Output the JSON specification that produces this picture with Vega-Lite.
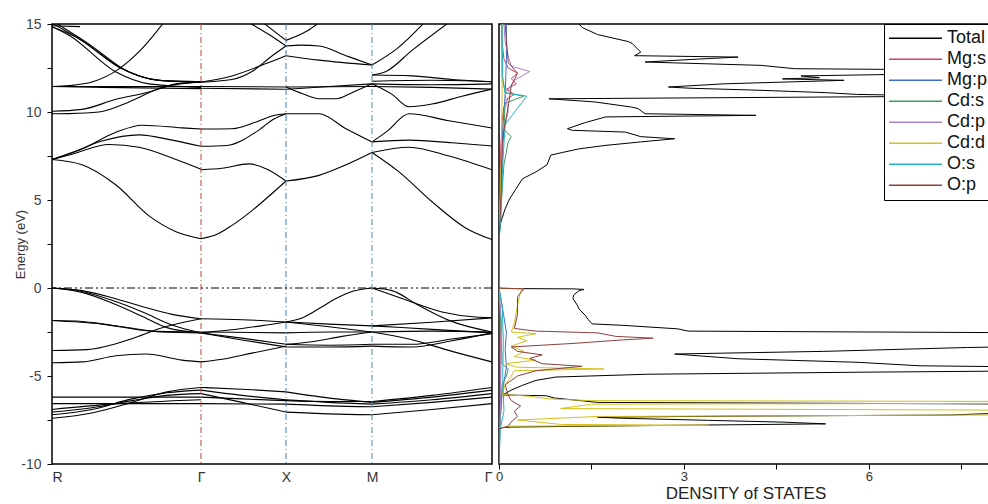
{
"$schema":"https://vega.github.io/schema/vega-lite/v6.json",
"background":"white",
"padding":{"left":14,"top":16,"right":0,"bottom":0},
"spacing":0,
"config":{"view":{"stroke":"black","strokeWidth":1.5},"font":"Liberation Sans","axis":{"labelFont":"Liberation Sans","titleFont":"Liberation Sans"},"legend":{"labelFont":"Liberation Sans"}},
"resolve":{"scale":{"x":"independent","y":"independent","color":"independent"},"legend":{"color":"independent"}},
"datasets":{
"bands":[
{"b":"r1","k":0,"e":7.3},{"b":"r1","k":30,"e":7.0},{"b":"r1","k":64,"e":5.85},{"b":"r1","k":97,"e":4.1},{"b":"r1","k":124,"e":3.2},{"b":"r1","k":149,"e":2.8},
{"b":"r2","k":0,"e":7.3},{"b":"r2","k":20,"e":7.6},{"b":"r2","k":57,"e":8.15},{"b":"r2","k":87,"e":8.0},{"b":"r2","k":124,"e":7.3},{"b":"r2","k":149,"e":6.75},
{"b":"r3","k":0,"e":7.3},{"b":"r3","k":20,"e":7.7},{"b":"r3","k":50,"e":8.35},{"b":"r3","k":87,"e":8.7},{"b":"r3","k":120,"e":8.4},{"b":"r3","k":149,"e":8.05},
{"b":"r4","k":0,"e":7.3},{"b":"r4","k":30,"e":7.9},{"b":"r4","k":64,"e":8.85},{"b":"r4","k":90,"e":9.25},{"b":"r4","k":130,"e":9.1},{"b":"r4","k":149,"e":9.03},
{"b":"r5","k":0,"e":10.04},{"b":"r5","k":30,"e":10.15},{"b":"r5","k":64,"e":10.72},{"b":"r5","k":97,"e":11.14},{"b":"r5","k":120,"e":11.52},{"b":"r5","k":149,"e":11.71},
{"b":"r6","k":0,"e":9.9},{"b":"r6","k":17,"e":9.91},{"b":"r6","k":47,"e":10.0},{"b":"r6","k":77,"e":10.57},{"b":"r6","k":107,"e":11.33},{"b":"r6","k":124,"e":11.6},{"b":"r6","k":149,"e":11.7},
{"b":"r7","k":0,"e":11.45},{"b":"r7","k":149,"e":11.45},
{"b":"r8","k":0,"e":11.45},{"b":"r8","k":50,"e":11.4},{"b":"r8","k":149,"e":11.33},
{"b":"r9","k":0,"e":11.45},{"b":"r9","k":17,"e":11.5},{"b":"r9","k":40,"e":11.7},{"b":"r9","k":67,"e":12.45},{"b":"r9","k":90,"e":13.6},{"b":"r9","k":116,"e":15.4},
{"b":"r10","k":0,"e":14.85},{"b":"r10","k":27,"e":14.17},{"b":"r10","k":67,"e":12.56},{"b":"r10","k":107,"e":11.8},{"b":"r10","k":149,"e":11.7},
{"b":"r11","k":0,"e":15.05},{"b":"r11","k":30,"e":14.05},{"b":"r11","k":70,"e":12.45},{"b":"r11","k":110,"e":11.78},{"b":"r11","k":149,"e":11.72},
{"b":"r12","k":4,"e":15.05},{"b":"r12","k":36,"e":13.9},{"b":"r12","k":76,"e":12.3},{"b":"r12","k":116,"e":11.75},{"b":"r12","k":149,"e":11.7},
{"b":"r13","k":0,"e":14.85},{"b":"r13","k":17,"e":14.36},{"b":"r13","k":64,"e":12.27},{"b":"r13","k":97,"e":11.6},{"b":"r13","k":149,"e":11.4},
{"b":"r14","k":0,"e":14.9},{"b":"r14","k":28,"e":14.85},
{"b":"r15","k":0,"e":0},{"b":"r15","k":30,"e":-0.15},{"b":"r15","k":60,"e":-0.55},{"b":"r15","k":90,"e":-1.05},{"b":"r15","k":120,"e":-1.5},{"b":"r15","k":149,"e":-1.75},
{"b":"r16","k":0,"e":0},{"b":"r16","k":30,"e":-0.2},{"b":"r16","k":60,"e":-0.7},{"b":"r16","k":90,"e":-1.35},{"b":"r16","k":120,"e":-2.1},{"b":"r16","k":149,"e":-2.55},
{"b":"r17","k":0,"e":0},{"b":"r17","k":30,"e":-0.25},{"b":"r17","k":60,"e":-0.85},{"b":"r17","k":90,"e":-1.6},{"b":"r17","k":115,"e":-2.25},{"b":"r17","k":149,"e":-2.55},
{"b":"r18","k":0,"e":-1.85},{"b":"r18","k":30,"e":-1.9},{"b":"r18","k":70,"e":-2.2},{"b":"r18","k":110,"e":-2.5},{"b":"r18","k":149,"e":-2.55},
{"b":"r19","k":0,"e":-1.85},{"b":"r19","k":50,"e":-2.05},{"b":"r19","k":100,"e":-2.45},{"b":"r19","k":149,"e":-2.5},
{"b":"r20","k":0,"e":-3.55},{"b":"r20","k":35,"e":-3.5},{"b":"r20","k":80,"e":-2.88},{"b":"r20","k":107,"e":-2.31},{"b":"r20","k":149,"e":-1.75},
{"b":"r21","k":0,"e":-4.25},{"b":"r21","k":30,"e":-4.2},{"b":"r21","k":64,"e":-3.85},{"b":"r21","k":94,"e":-3.75},{"b":"r21","k":130,"e":-4.1},{"b":"r21","k":149,"e":-4.2},
{"b":"r22","k":0,"e":-6.2},{"b":"r22","k":149,"e":-6.2},
{"b":"r23","k":0,"e":-6.57},{"b":"r23","k":149,"e":-6.57},
{"b":"r24","k":0,"e":-7.4},{"b":"r24","k":40,"e":-7.1},{"b":"r24","k":80,"e":-6.5},{"b":"r24","k":115,"e":-5.9},{"b":"r24","k":149,"e":-5.65},
{"b":"r25","k":0,"e":-7.2},{"b":"r25","k":40,"e":-6.9},{"b":"r25","k":80,"e":-6.3},{"b":"r25","k":115,"e":-5.95},{"b":"r25","k":149,"e":-5.8},
{"b":"r26","k":0,"e":-7.05},{"b":"r26","k":40,"e":-6.8},{"b":"r26","k":80,"e":-6.4},{"b":"r26","k":115,"e":-6.1},{"b":"r26","k":149,"e":-6.0},
{"b":"r27","k":0,"e":-6.9},{"b":"r27","k":60,"e":-6.6},{"b":"r27","k":149,"e":-6.35},
{"b":"g1","k":149,"e":2.8},{"b":"g1","k":165,"e":3.05},{"b":"g1","k":180,"e":3.56},{"b":"g1","k":200,"e":4.4},{"b":"g1","k":214,"e":5.07},{"b":"g1","k":234,"e":6.08},
{"b":"g2","k":149,"e":6.72},{"b":"g2","k":170,"e":6.8},{"b":"g2","k":197,"e":7.05},{"b":"g2","k":215,"e":6.75},{"b":"g2","k":234,"e":6.08},
{"b":"g3","k":149,"e":8.05},{"b":"g3","k":175,"e":8.1},{"b":"g3","k":205,"e":8.9},{"b":"g3","k":222,"e":9.6},{"b":"g3","k":234,"e":9.9},
{"b":"g4","k":149,"e":9.03},{"b":"g4","k":180,"e":9.05},{"b":"g4","k":205,"e":9.45},{"b":"g4","k":222,"e":9.8},{"b":"g4","k":234,"e":9.9},
{"b":"g5","k":149,"e":11.45},{"b":"g5","k":234,"e":11.42},
{"b":"g6","k":149,"e":11.35},{"b":"g6","k":234,"e":11.29},
{"b":"g7","k":149,"e":11.7},{"b":"g7","k":180,"e":12.05},{"b":"g7","k":214,"e":12.75},{"b":"g7","k":234,"e":13.2},
{"b":"g8","k":149,"e":11.7},{"b":"g8","k":180,"e":11.85},{"b":"g8","k":200,"e":12.3},{"b":"g8","k":218,"e":13.1},{"b":"g8","k":234,"e":13.75},
{"b":"g9","k":190,"e":15.3},{"b":"g9","k":217,"e":14.4},{"b":"g9","k":234,"e":13.75},
{"b":"g10","k":206,"e":15.3},{"b":"g10","k":234,"e":14.07},
{"b":"g11","k":149,"e":-1.75},{"b":"g11","k":190,"e":-1.8},{"b":"g11","k":234,"e":-1.93},
{"b":"g12","k":149,"e":-2.55},{"b":"g12","k":190,"e":-2.3},{"b":"g12","k":234,"e":-1.93},
{"b":"g13","k":149,"e":-2.55},{"b":"g13","k":190,"e":-2.85},{"b":"g13","k":234,"e":-3.2},
{"b":"g14","k":149,"e":-2.55},{"b":"g14","k":190,"e":-2.95},{"b":"g14","k":234,"e":-3.35},
{"b":"g15","k":149,"e":-4.2},{"b":"g15","k":170,"e":-4.05},{"b":"g15","k":200,"e":-3.7},{"b":"g15","k":234,"e":-3.3},
{"b":"g16","k":149,"e":-2.5},{"b":"g16","k":234,"e":-2.55},
{"b":"g17","k":149,"e":-5.65},{"b":"g17","k":190,"e":-5.75},{"b":"g17","k":234,"e":-5.9},
{"b":"g18","k":149,"e":-5.8},{"b":"g18","k":190,"e":-6.1},{"b":"g18","k":234,"e":-6.35},
{"b":"g19","k":149,"e":-6.0},{"b":"g19","k":190,"e":-6.5},{"b":"g19","k":234,"e":-7.05},
{"b":"g20","k":149,"e":-6.2},{"b":"g20","k":190,"e":-6.3},{"b":"g20","k":234,"e":-6.4},
{"b":"g21","k":149,"e":-6.57},{"b":"g21","k":234,"e":-6.6},
{"b":"x1","k":234,"e":6.08},{"b":"x1","k":267,"e":6.4},{"b":"x1","k":294,"e":7.0},{"b":"x1","k":320,"e":7.7},
{"b":"x2","k":234,"e":9.9},{"b":"x2","k":267,"e":9.9},{"b":"x2","k":294,"e":9.05},{"b":"x2","k":320,"e":8.3},
{"b":"x3","k":234,"e":11.42},{"b":"x3","k":250,"e":11.05},{"b":"x3","k":267,"e":10.75},{"b":"x3","k":284,"e":10.75},{"b":"x3","k":300,"e":11.1},{"b":"x3","k":320,"e":11.6},
{"b":"x4","k":234,"e":11.42},{"b":"x4","k":320,"e":11.45},
{"b":"x5","k":234,"e":11.29},{"b":"x5","k":277,"e":11.45},{"b":"x5","k":320,"e":11.6},
{"b":"x6","k":234,"e":13.2},{"b":"x6","k":267,"e":12.95},{"b":"x6","k":320,"e":12.67},
{"b":"x7","k":234,"e":13.75},{"b":"x7","k":250,"e":13.8},{"b":"x7","k":267,"e":13.75},{"b":"x7","k":294,"e":13.2},{"b":"x7","k":320,"e":12.67},
{"b":"x8","k":234,"e":14.07},{"b":"x8","k":255,"e":14.6},{"b":"x8","k":272,"e":15.3},
{"b":"x9","k":234,"e":-1.93},{"b":"x9","k":250,"e":-1.7},{"b":"x9","k":267,"e":-1.17},{"b":"x9","k":284,"e":-0.6},{"b":"x9","k":300,"e":-0.2},{"b":"x9","k":320,"e":0},
{"b":"x10","k":234,"e":-1.93},{"b":"x10","k":277,"e":-2.05},{"b":"x10","k":320,"e":-2.15},
{"b":"x11","k":234,"e":-1.93},{"b":"x11","k":277,"e":-2.2},{"b":"x11","k":320,"e":-2.5},
{"b":"x12","k":234,"e":-3.2},{"b":"x12","k":277,"e":-3.25},{"b":"x12","k":320,"e":-3.2},
{"b":"x13","k":234,"e":-3.35},{"b":"x13","k":277,"e":-3.35},{"b":"x13","k":320,"e":-3.3},
{"b":"x14","k":234,"e":-3.2},{"b":"x14","k":260,"e":-3.05},{"b":"x14","k":290,"e":-2.75},{"b":"x14","k":320,"e":-2.5},
{"b":"x15","k":234,"e":-2.55},{"b":"x15","k":277,"e":-2.5},{"b":"x15","k":320,"e":-2.5},
{"b":"x16","k":234,"e":-5.9},{"b":"x16","k":270,"e":-6.2},{"b":"x16","k":320,"e":-6.5},
{"b":"x17","k":234,"e":-6.35},{"b":"x17","k":277,"e":-6.5},{"b":"x17","k":320,"e":-6.6},
{"b":"x18","k":234,"e":-6.4},{"b":"x18","k":277,"e":-6.45},{"b":"x18","k":320,"e":-6.45},
{"b":"x19","k":234,"e":-6.6},{"b":"x19","k":277,"e":-6.7},{"b":"x19","k":320,"e":-6.75},
{"b":"x20","k":234,"e":-7.05},{"b":"x20","k":277,"e":-7.15},{"b":"x20","k":320,"e":-7.2},
{"b":"m1","k":320,"e":7.7},{"b":"m1","k":347,"e":6.6},{"b":"m1","k":380,"e":4.9},{"b":"m1","k":414,"e":3.4},{"b":"m1","k":440,"e":2.75},
{"b":"m2","k":320,"e":7.7},{"b":"m2","k":357,"e":8.0},{"b":"m2","k":397,"e":7.5},{"b":"m2","k":440,"e":6.72},
{"b":"m3","k":320,"e":8.3},{"b":"m3","k":357,"e":8.4},{"b":"m3","k":400,"e":8.25},{"b":"m3","k":440,"e":8.07},
{"b":"m4","k":320,"e":8.3},{"b":"m4","k":335,"e":8.9},{"b":"m4","k":357,"e":9.9},{"b":"m4","k":397,"e":9.5},{"b":"m4","k":440,"e":9.09},
{"b":"m5","k":320,"e":12.67},{"b":"m5","k":345,"e":13.6},{"b":"m5","k":376,"e":15.3},
{"b":"m6","k":320,"e":12.1},{"b":"m6","k":334,"e":12.3},{"b":"m6","k":360,"e":13.5},{"b":"m6","k":402,"e":15.3},
{"b":"m7","k":320,"e":12.1},{"b":"m7","k":360,"e":12.05},{"b":"m7","k":400,"e":11.85},{"b":"m7","k":440,"e":11.72},
{"b":"m8","k":320,"e":11.75},{"b":"m8","k":380,"e":11.8},{"b":"m8","k":440,"e":11.72},
{"b":"m9","k":320,"e":11.6},{"b":"m9","k":380,"e":11.55},{"b":"m9","k":440,"e":11.6},
{"b":"m10","k":320,"e":11.6},{"b":"m10","k":340,"e":11.0},{"b":"m10","k":357,"e":10.3},{"b":"m10","k":380,"e":10.45},{"b":"m10","k":410,"e":10.9},{"b":"m10","k":440,"e":11.3},
{"b":"m11","k":320,"e":11.45},{"b":"m11","k":380,"e":11.4},{"b":"m11","k":440,"e":11.3},
{"b":"m12","k":320,"e":0},{"b":"m12","k":350,"e":-0.6},{"b":"m12","k":390,"e":-1.36},{"b":"m12","k":424,"e":-1.65},{"b":"m12","k":440,"e":-1.68},
{"b":"m13","k":320,"e":0},{"b":"m13","k":340,"e":-0.15},{"b":"m13","k":367,"e":-1.0},{"b":"m13","k":397,"e":-1.84},{"b":"m13","k":440,"e":-2.5},
{"b":"m14","k":320,"e":-2.15},{"b":"m14","k":380,"e":-1.95},{"b":"m14","k":440,"e":-1.7},
{"b":"m15","k":320,"e":-2.5},{"b":"m15","k":380,"e":-2.45},{"b":"m15","k":440,"e":-2.5},
{"b":"m16","k":320,"e":-2.15},{"b":"m16","k":380,"e":-2.35},{"b":"m16","k":440,"e":-2.55},
{"b":"m17","k":320,"e":-2.5},{"b":"m17","k":357,"e":-2.9},{"b":"m17","k":400,"e":-3.6},{"b":"m17","k":440,"e":-4.2},
{"b":"m18","k":320,"e":-3.2},{"b":"m18","k":360,"e":-3.2},{"b":"m18","k":400,"e":-2.9},{"b":"m18","k":440,"e":-2.6},
{"b":"m19","k":320,"e":-3.3},{"b":"m19","k":360,"e":-3.35},{"b":"m19","k":400,"e":-3.0},{"b":"m19","k":440,"e":-2.55},
{"b":"m20","k":320,"e":-6.45},{"b":"m20","k":380,"e":-6.1},{"b":"m20","k":440,"e":-5.65},
{"b":"m21","k":320,"e":-6.5},{"b":"m21","k":380,"e":-6.2},{"b":"m21","k":440,"e":-5.8},
{"b":"m22","k":320,"e":-6.6},{"b":"m22","k":380,"e":-6.35},{"b":"m22","k":440,"e":-6.0},
{"b":"m23","k":320,"e":-6.75},{"b":"m23","k":380,"e":-6.5},{"b":"m23","k":440,"e":-6.2},
{"b":"m24","k":320,"e":-7.2},{"b":"m24","k":380,"e":-6.9},{"b":"m24","k":440,"e":-6.57}
],
"dos":[
{"s":"Total","e":-10,"d":0},{"s":"Total","e":-7.95,"d":0},{"s":"Total","e":-7.9,"d":0.2},{"s":"Total","e":-7.82,"d":2.35},{"s":"Total","e":-7.72,"d":5.3},{"s":"Total","e":-7.62,"d":4.6},{"s":"Total","e":-7.52,"d":3.4},{"s":"Total","e":-7.4,"d":2.0},{"s":"Total","e":-7.34,"d":1.6},{"s":"Total","e":-7.28,"d":3.8},{"s":"Total","e":-7.22,"d":7.3},{"s":"Total","e":-7.0,"d":9},{"s":"Total","e":-6.6,"d":9},{"s":"Total","e":-6.5,"d":1.6},{"s":"Total","e":-6.38,"d":1.27},{"s":"Total","e":-6.25,"d":0.9},{"s":"Total","e":-6.12,"d":0.76},{"s":"Total","e":-6.08,"d":0.06},{"s":"Total","e":-5.8,"d":0.2},{"s":"Total","e":-5.53,"d":0.38},{"s":"Total","e":-5.25,"d":0.6},{"s":"Total","e":-5.06,"d":0.92},{"s":"Total","e":-4.9,"d":2.4},{"s":"Total","e":-4.78,"d":6.0},{"s":"Total","e":-4.7,"d":9},{"s":"Total","e":-4.5,"d":9},{"s":"Total","e":-4.42,"d":6.83},{"s":"Total","e":-4.22,"d":5.81},{"s":"Total","e":-4.02,"d":3.88},{"s":"Total","e":-3.75,"d":2.85},{"s":"Total","e":-3.6,"d":5.27},{"s":"Total","e":-3.38,"d":7.6},{"s":"Total","e":-3.3,"d":9},{"s":"Total","e":-2.55,"d":9},{"s":"Total","e":-2.45,"d":3.07},{"s":"Total","e":-2.32,"d":2.9},{"s":"Total","e":-2.12,"d":2.0},{"s":"Total","e":-2.04,"d":1.51},{"s":"Total","e":-1.8,"d":1.45},{"s":"Total","e":-1.55,"d":1.4},{"s":"Total","e":-1.2,"d":1.3},{"s":"Total","e":-0.97,"d":1.27},{"s":"Total","e":-0.6,"d":1.2},{"s":"Total","e":-0.4,"d":1.21},{"s":"Total","e":-0.15,"d":1.3},{"s":"Total","e":-0.08,"d":1.38},{"s":"Total","e":-0.05,"d":1.2},{"s":"Total","e":-0.03,"d":0.05},{"s":"Total","e":0,"d":0},
{"s":"Total","e":2.7,"d":0},{"s":"Total","e":3.3,"d":0.01},{"s":"Total","e":3.75,"d":0.03},{"s":"Total","e":4.5,"d":0.1},{"s":"Total","e":5.05,"d":0.17},{"s":"Total","e":5.6,"d":0.27},{"s":"Total","e":6.2,"d":0.38},{"s":"Total","e":6.6,"d":0.6},{"s":"Total","e":7.0,"d":0.78},{"s":"Total","e":7.55,"d":0.84},{"s":"Total","e":7.7,"d":1.03},{"s":"Total","e":7.9,"d":1.29},{"s":"Total","e":8.1,"d":1.72},{"s":"Total","e":8.3,"d":2.3},{"s":"Total","e":8.48,"d":2.85},{"s":"Total","e":8.6,"d":2.3},{"s":"Total","e":8.86,"d":2.05},{"s":"Total","e":8.96,"d":1.19},{"s":"Total","e":9.05,"d":1.11},{"s":"Total","e":9.4,"d":1.4},{"s":"Total","e":9.72,"d":1.73},{"s":"Total","e":9.81,"d":4.17},{"s":"Total","e":9.9,"d":2.37},{"s":"Total","e":10.19,"d":2.26},{"s":"Total","e":10.28,"d":2.15},{"s":"Total","e":10.57,"d":1.56},{"s":"Total","e":10.75,"d":0.81},{"s":"Total","e":10.9,"d":7.5},{"s":"Total","e":11.0,"d":5.8},{"s":"Total","e":11.1,"d":5.3},{"s":"Total","e":11.25,"d":4.1},{"s":"Total","e":11.35,"d":3.1},{"s":"Total","e":11.42,"d":2.75},{"s":"Total","e":11.6,"d":3.65},{"s":"Total","e":11.8,"d":5.6},{"s":"Total","e":11.88,"d":4.6},{"s":"Total","e":11.95,"d":5.2},{"s":"Total","e":12.05,"d":4.9},{"s":"Total","e":12.18,"d":7.2},{"s":"Total","e":12.4,"d":7.2},{"s":"Total","e":12.46,"d":4.8},{"s":"Total","e":12.65,"d":4.25},{"s":"Total","e":12.84,"d":2.37},{"s":"Total","e":13.0,"d":3.2},{"s":"Total","e":13.12,"d":3.88},{"s":"Total","e":13.2,"d":2.2},{"s":"Total","e":13.4,"d":2.3},{"s":"Total","e":13.9,"d":2.16},{"s":"Total","e":14.0,"d":2.1},{"s":"Total","e":14.4,"d":1.6},{"s":"Total","e":14.8,"d":1.35},{"s":"Total","e":15.0,"d":1.3},
{"s":"Mg:s","e":-10,"d":0},{"s":"Mg:s","e":-8,"d":0.01},{"s":"Mg:s","e":-7,"d":0.02},{"s":"Mg:s","e":-5,"d":0.02},{"s":"Mg:s","e":-2,"d":0.02},{"s":"Mg:s","e":0,"d":0},{"s":"Mg:s","e":2.7,"d":0},{"s":"Mg:s","e":5,"d":0.01},{"s":"Mg:s","e":8,"d":0.03},{"s":"Mg:s","e":9.5,"d":0.05},{"s":"Mg:s","e":10.3,"d":0.08},{"s":"Mg:s","e":10.8,"d":0.15},{"s":"Mg:s","e":11.0,"d":0.25},{"s":"Mg:s","e":11.3,"d":0.12},{"s":"Mg:s","e":11.6,"d":0.28},{"s":"Mg:s","e":11.9,"d":0.2},{"s":"Mg:s","e":12.2,"d":0.3},{"s":"Mg:s","e":12.5,"d":0.15},{"s":"Mg:s","e":13,"d":0.08},{"s":"Mg:s","e":14,"d":0.05},{"s":"Mg:s","e":15,"d":0.05},
{"s":"Mg:p","e":-10,"d":0},{"s":"Mg:p","e":-8,"d":0.01},{"s":"Mg:p","e":-6,"d":0.05},{"s":"Mg:p","e":-4.5,"d":0.12},{"s":"Mg:p","e":-3.5,"d":0.1},{"s":"Mg:p","e":-2.5,"d":0.12},{"s":"Mg:p","e":-1,"d":0.05},{"s":"Mg:p","e":0,"d":0},{"s":"Mg:p","e":2.7,"d":0},{"s":"Mg:p","e":6,"d":0.04},{"s":"Mg:p","e":9,"d":0.06},{"s":"Mg:p","e":11,"d":0.1},{"s":"Mg:p","e":13,"d":0.12},{"s":"Mg:p","e":15,"d":0.12},
{"s":"Cd:s","e":-10,"d":0},{"s":"Cd:s","e":-7.5,"d":0.02},{"s":"Cd:s","e":-5.5,"d":0.05},{"s":"Cd:s","e":-5,"d":0.12},{"s":"Cd:s","e":-4.6,"d":0.15},{"s":"Cd:s","e":-4.3,"d":0.05},{"s":"Cd:s","e":-2,"d":0.03},{"s":"Cd:s","e":0,"d":0},{"s":"Cd:s","e":2.7,"d":0},{"s":"Cd:s","e":3.5,"d":0.02},{"s":"Cd:s","e":5,"d":0.04},{"s":"Cd:s","e":7,"d":0.08},{"s":"Cd:s","e":8.3,"d":0.15},{"s":"Cd:s","e":8.6,"d":0.2},{"s":"Cd:s","e":9,"d":0.08},{"s":"Cd:s","e":10.5,"d":0.1},{"s":"Cd:s","e":10.9,"d":0.4},{"s":"Cd:s","e":11.1,"d":0.1},{"s":"Cd:s","e":12,"d":0.05},{"s":"Cd:s","e":15,"d":0.04},
{"s":"Cd:p","e":-10,"d":0},{"s":"Cd:p","e":-7.5,"d":0.02},{"s":"Cd:p","e":-5,"d":0.03},{"s":"Cd:p","e":-2,"d":0.04},{"s":"Cd:p","e":0,"d":0},{"s":"Cd:p","e":2.7,"d":0},{"s":"Cd:p","e":6,"d":0.03},{"s":"Cd:p","e":9,"d":0.08},{"s":"Cd:p","e":10,"d":0.15},{"s":"Cd:p","e":11,"d":0.1},{"s":"Cd:p","e":11.8,"d":0.25},{"s":"Cd:p","e":12.3,"d":0.5},{"s":"Cd:p","e":12.6,"d":0.2},{"s":"Cd:p","e":13.2,"d":0.15},{"s":"Cd:p","e":14,"d":0.1},{"s":"Cd:p","e":15,"d":0.08},
{"s":"Cd:d","e":-10,"d":0},{"s":"Cd:d","e":-7.95,"d":0},{"s":"Cd:d","e":-7.85,"d":0.2},{"s":"Cd:d","e":-7.8,"d":3.4},{"s":"Cd:d","e":-7.75,"d":1.0},{"s":"Cd:d","e":-7.5,"d":0.3},{"s":"Cd:d","e":-7.3,"d":1.6},{"s":"Cd:d","e":-7.2,"d":9},{"s":"Cd:d","e":-6.95,"d":9},{"s":"Cd:d","e":-6.85,"d":1},{"s":"Cd:d","e":-6.6,"d":1.5},{"s":"Cd:d","e":-6.55,"d":9},{"s":"Cd:d","e":-6.45,"d":9},{"s":"Cd:d","e":-6.4,"d":1.5},{"s":"Cd:d","e":-6.3,"d":0.8},{"s":"Cd:d","e":-6.15,"d":0.5},{"s":"Cd:d","e":-6.05,"d":0.05},{"s":"Cd:d","e":-5.5,"d":0.1},{"s":"Cd:d","e":-5.0,"d":0.2},{"s":"Cd:d","e":-4.7,"d":0.25},{"s":"Cd:d","e":-4.6,"d":1.7},{"s":"Cd:d","e":-4.5,"d":0.3},{"s":"Cd:d","e":-4.3,"d":0.1},{"s":"Cd:d","e":-4.1,"d":0.6},{"s":"Cd:d","e":-3.9,"d":0.25},{"s":"Cd:d","e":-3.6,"d":0.4},{"s":"Cd:d","e":-3.3,"d":0.2},{"s":"Cd:d","e":-3.0,"d":0.45},{"s":"Cd:d","e":-2.8,"d":0.3},{"s":"Cd:d","e":-2.6,"d":0.6},{"s":"Cd:d","e":-2.5,"d":0.2},{"s":"Cd:d","e":-2.0,"d":0.25},{"s":"Cd:d","e":-1.0,"d":0.3},{"s":"Cd:d","e":-0.2,"d":0.35},{"s":"Cd:d","e":-0.05,"d":0.4},{"s":"Cd:d","e":0,"d":0},{"s":"Cd:d","e":2.7,"d":0},{"s":"Cd:d","e":5,"d":0.02},{"s":"Cd:d","e":8,"d":0.04},{"s":"Cd:d","e":11,"d":0.05},{"s":"Cd:d","e":15,"d":0.05},
{"s":"O:s","e":-10,"d":0},{"s":"O:s","e":-8,"d":0.02},{"s":"O:s","e":-7,"d":0.08},{"s":"O:s","e":-5,"d":0.06},{"s":"O:s","e":-3,"d":0.07},{"s":"O:s","e":-1,"d":0.05},{"s":"O:s","e":0,"d":0},{"s":"O:s","e":2.7,"d":0},{"s":"O:s","e":4,"d":0.03},{"s":"O:s","e":7,"d":0.06},{"s":"O:s","e":9.3,"d":0.1},{"s":"O:s","e":10.9,"d":0.45},{"s":"O:s","e":11.1,"d":0.1},{"s":"O:s","e":12,"d":0.06},{"s":"O:s","e":15,"d":0.05},
{"s":"O:p","e":-10,"d":0},{"s":"O:p","e":-8,"d":0},{"s":"O:p","e":-7.85,"d":0.15},{"s":"O:p","e":-7.6,"d":0.2},{"s":"O:p","e":-7.3,"d":0.3},{"s":"O:p","e":-7.0,"d":0.25},{"s":"O:p","e":-6.7,"d":0.35},{"s":"O:p","e":-6.4,"d":0.2},{"s":"O:p","e":-6.1,"d":0.15},{"s":"O:p","e":-5.5,"d":0.1},{"s":"O:p","e":-5.0,"d":0.3},{"s":"O:p","e":-4.7,"d":0.6},{"s":"O:p","e":-4.45,"d":1.35},{"s":"O:p","e":-4.3,"d":0.7},{"s":"O:p","e":-4.0,"d":0.5},{"s":"O:p","e":-3.8,"d":0.7},{"s":"O:p","e":-3.6,"d":0.3},{"s":"O:p","e":-3.35,"d":0.2},{"s":"O:p","e":-3.15,"d":1.2},{"s":"O:p","e":-2.95,"d":2.0},{"s":"O:p","e":-2.85,"d":2.5},{"s":"O:p","e":-2.75,"d":1.9},{"s":"O:p","e":-2.55,"d":1.6},{"s":"O:p","e":-2.45,"d":0.6},{"s":"O:p","e":-2.3,"d":0.25},{"s":"O:p","e":-1.5,"d":0.3},{"s":"O:p","e":-0.5,"d":0.3},{"s":"O:p","e":-0.05,"d":0.4},{"s":"O:p","e":0,"d":0},{"s":"O:p","e":2.7,"d":0},{"s":"O:p","e":5,"d":0.03},{"s":"O:p","e":8,"d":0.05},{"s":"O:p","e":9,"d":0.08},{"s":"O:p","e":10.3,"d":0.15},{"s":"O:p","e":11.5,"d":0.2},{"s":"O:p","e":12.2,"d":0.3},{"s":"O:p","e":12.8,"d":0.15},{"s":"O:p","e":15,"d":0.1}
]
},
"hconcat":[
{
"width":440,"height":440,
"layer":[
{"data":{"name":"bands"},
 "mark":{"type":"line","interpolate":"monotone","clip":true,"strokeWidth":1.1,"color":"black"},
 "encoding":{
  "x":{"field":"k","type":"quantitative","scale":{"domain":[0,440],"nice":false,"zero":false},
       "axis":{"values":[0,149,234,320,440],"labelExpr":"datum.value==0?'R':datum.value==149?'Γ':datum.value==234?'X':datum.value==320?'M':'Γ'","title":null,"ticks":false,"tickSize":0,"grid":false,"domain":false,"labelFontSize":14,"labelPadding":6,"labelColor":"#333"}},
  "y":{"field":"e","type":"quantitative","scale":{"domain":[-10,15],"nice":false,"zero":false},
       "axis":{"values":[-10,-7.5,-5,-2.5,0,2.5,5,7.5,10,12.5,15],"labelExpr":"datum.value % 5 == 0 ? ''+datum.value : ''","title":"Energy (eV)","titleFontSize":13,"titleFontWeight":"normal","titleColor":"#333","titlePadding":-7,"tickSize":5,"tickColor":"black","labelFontSize":14,"labelPadding":6,"labelColor":"#444","grid":false,"domain":false}},
  "detail":{"field":"b"},
  "order":{"field":"k","type":"quantitative"}}},
{"data":{"values":[{"k":149}]},"mark":{"type":"rule","color":"#b5483f","strokeDash":[6,3,1,3],"strokeWidth":1},"encoding":{"x":{"field":"k","type":"quantitative"}}},
{"data":{"values":[{"k":234}]},"mark":{"type":"rule","color":"#3f78c0","strokeDash":[6,3,1,3],"strokeWidth":1},"encoding":{"x":{"field":"k","type":"quantitative"}}},
{"data":{"values":[{"k":320}]},"mark":{"type":"rule","color":"#4a8aa8","strokeDash":[6,3,1,3],"strokeWidth":1},"encoding":{"x":{"field":"k","type":"quantitative"}}},
{"data":{"values":[{"e":0}]},"mark":{"type":"rule","color":"black","strokeDash":[8,3,2,3,2,3],"strokeWidth":1},"encoding":{"y":{"field":"e","type":"quantitative"}}}
]
},
{
"width":493,"height":440,
"data":{"name":"dos"},
"mark":{"type":"line","clip":true,"strokeWidth":1},
"encoding":{
 "x":{"field":"d","type":"quantitative","scale":{"domain":[0,8],"nice":false,"zero":false},
      "axis":{"values":[0,1.5,3,4.5,6,7.5],"labelExpr":"datum.value % 3 == 0 ? ''+datum.value : ''","labelFlush":false,"title":"DENSITY of STATES","titleFontSize":17,"titleFontWeight":"normal","titleColor":"#222","titlePadding":2,"labelFontSize":13,"labelPadding":1,"labelColor":"#333","tickSize":5,"tickColor":"black","domain":false,"grid":false}},
 "y":{"field":"e","type":"quantitative","scale":{"domain":[-10,15],"nice":false,"zero":false},"axis":null},
 "color":{"field":"s","type":"nominal","scale":{"domain":["Total","Mg:s","Mg:p","Cd:s","Cd:p","Cd:d","O:s","O:p"],"range":["#000000","#d63e5c","#3d6fc6","#3c9e5a","#a883c9","#d4c11a","#22b5c6","#8b3f3f"]},
   "legend":{"title":null,"orient":"top-right","offset":0,"symbolType":"stroke","symbolSize":2800,"symbolStrokeWidth":1.5,"clipHeight":20.7,"rowPadding":0,"labelFontSize":18,"labelColor":"#111","labelOffset":4,"fillColor":"white","strokeColor":"black","padding":4}},
 "order":{"field":"e","type":"quantitative"}}
}
]
}
